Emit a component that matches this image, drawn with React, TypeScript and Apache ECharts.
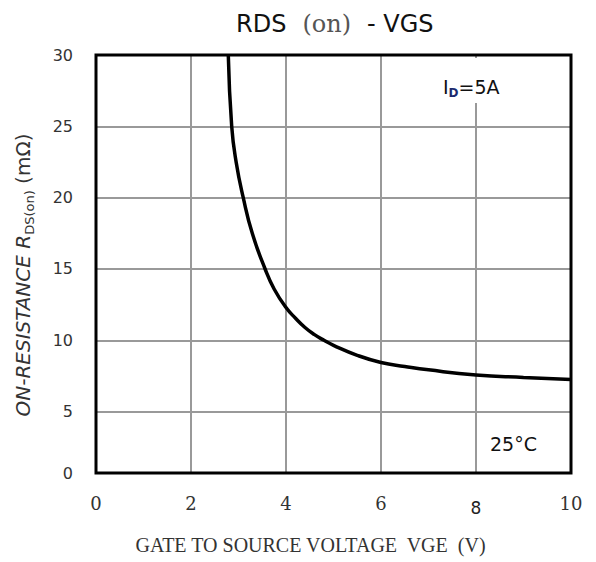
import React, { useEffect, useRef } from 'react';
import * as echarts from 'echarts';

// Gate-source voltage (V) and on-resistance (mΩ)
const vgs = [2.785, 2.857, 2.95, 3.1, 3.29, 3.56, 3.75, 4.0, 4.2, 4.4, 4.6, 4.8, 5.0, 5.5, 6, 6.5, 7, 8, 9, 10];
const rdsOn = [30, 25, 22.5, 20, 17.5, 15, 13.6, 12.3, 11.55, 10.9, 10.4, 10.0, 9.65, 8.95, 8.45, 8.17, 7.93, 7.57, 7.4, 7.26];

const X_MIN = 0;
const X_MAX = 10;
const X_INTERVAL = 2;
const Y_MAX = 30;
// the reference's bottom band (0..5) is drawn shorter than the others; bottom edge sits at ~0.7 on the 5..30 scale
const Y_BOTTOM = 0.7;
const Y_BOTTOM_LABEL = '0';

const TITLE_MAIN = 'RDS';
const TITLE_PAREN = '(on)';
const TITLE_TAIL = '- VGS';
const X_NAME = 'GATE TO SOURCE VOLTAGE  VGE  (V)';
const Y_NAME_PREFIX = 'ON-RESISTANCE ';
const Y_NAME_SYMBOL = 'R';
const Y_NAME_SUB = 'DS(on)';
const Y_NAME_UNIT = ' (mΩ)';
const NOTE_CURRENT_MAIN = 'I';
const NOTE_CURRENT_SUB = 'D';
const NOTE_CURRENT_VALUE = '=5A';
const NOTE_TEMP = '25°C';

export default function App() {
  const ref = useRef<HTMLDivElement>(null);

  useEffect(() => {
    if (!ref.current) return;
    const chart = echarts.init(ref.current, null, { renderer: 'svg' });
    const sans = 'DejaVu Sans';
    const serif = 'Liberation Serif';

    chart.setOption({
      animation: false,
      backgroundColor: '#fff',
      title: {
        left: 231,
        top: 7,
        text: `{a|${TITLE_MAIN}}{b|${TITLE_PAREN}}{a|${TITLE_TAIL}}`,
        textStyle: {
          fontWeight: 'normal',
          rich: {
            a: { fontFamily: sans, fontSize: 24, fontWeight: 'normal', color: '#111' },
            b: { fontFamily: 'DejaVu Serif', fontSize: 24, fontWeight: 'normal', color: '#555', padding: [0, 16, 0, 16] },
          },
        },
      },
      grid: {
        left: 96,
        right: 25,
        top: 55,
        bottom: 89,
        show: true,
        borderColor: '#000',
        borderWidth: 3,
        backgroundColor: 'transparent',
        z: 5,
      },
      xAxis: {
        type: 'value',
        min: X_MIN,
        max: X_MAX,
        interval: X_INTERVAL,
        name: X_NAME,
        nameLocation: 'middle',
        nameGap: 62,
        nameTextStyle: {
          fontFamily: serif,
          fontSize: 20,
          color: '#333',
          padding: [0, 46, 0, 0],
        },
        axisLine: { show: false },
        axisTick: { show: false },
        axisLabel: {
          margin: 21,
          formatter: (v: number) => (v === 8 ? `{s|${v}}` : `{d|${v}}`),
          rich: {
            d: { fontFamily: 'DejaVu Serif', fontSize: 18, color: '#333' },
            s: { fontFamily: sans, fontSize: 17, color: '#222', padding: [5, 0, 0, 0] },
          },
        },
        splitLine: {
          show: true,
          showMinLine: false,
          showMaxLine: false,
          lineStyle: { color: '#999', width: 2 },
        },
      },
      yAxis: {
        type: 'value',
        min: Y_BOTTOM,
        max: Y_MAX,
        splitNumber: 6,
        name: `{i|${Y_NAME_PREFIX}${Y_NAME_SYMBOL}}{sub|${Y_NAME_SUB}}{n|${Y_NAME_UNIT}}`,
        nameLocation: 'middle',
        nameGap: 60,
        nameTextStyle: {
          padding: [0, 22, 0, 0],
          rich: {
            i: { fontFamily: sans, fontStyle: 'italic', fontSize: 20, color: '#333', lineHeight: 26, verticalAlign: 'middle' },
            sub: { fontFamily: sans, fontSize: 13, color: '#333', lineHeight: 13, verticalAlign: 'bottom' },
            n: { fontFamily: sans, fontSize: 20, color: '#333', lineHeight: 26, verticalAlign: 'middle' },
          },
        },
        axisLine: { show: false },
        axisTick: { show: false },
        axisLabel: {
          margin: 23,
          fontFamily: sans,
          fontSize: 16,
          color: '#333',
          formatter: (v: number) => (v < 1 ? Y_BOTTOM_LABEL : String(v)),
        },
        splitLine: {
          show: true,
          showMinLine: false,
          showMaxLine: false,
          lineStyle: { color: '#999', width: 2 },
        },
      },
      series: [
        {
          type: 'line',
          data: vgs.map((v, i) => [v, rdsOn[i]]),
          smooth: 0.5,
          symbol: 'none',
          lineStyle: { color: '#000', width: 3.5 },
          z: 3,
        },
      ],
      graphic: [
        {
          type: 'rect',
          z: 50,
          shape: { x: 432, y: 58, width: 80, height: 45 },
          style: { fill: '#fff' },
          silent: true,
        },
        {
          type: 'text',
          z: 60,
          x: 443,
          y: 87,
          style: {
            text: `{a|${NOTE_CURRENT_MAIN}}{b|${NOTE_CURRENT_SUB}}{a|${NOTE_CURRENT_VALUE}}`,
            verticalAlign: 'middle',
            rich: {
              a: { fontFamily: sans, fontSize: 19, fill: '#111', lineHeight: 24, verticalAlign: 'middle' },
              b: { fontFamily: sans, fontSize: 12, fontWeight: 'bold', fill: '#1c2a6e', lineHeight: 12, verticalAlign: 'bottom' },
            },
          },
        },
        {
          type: 'text',
          z: 60,
          x: 490,
          y: 444,
          style: {
            text: NOTE_TEMP,
            fontFamily: sans,
            fontSize: 19,
            fill: '#111',
            verticalAlign: 'middle',
          },
        },
      ],
    });

    return () => chart.dispose();
  }, []);

  return <div ref={ref} style={{ width: 596, height: 562, position: 'absolute', left: 0, top: 0 }} />;
}
